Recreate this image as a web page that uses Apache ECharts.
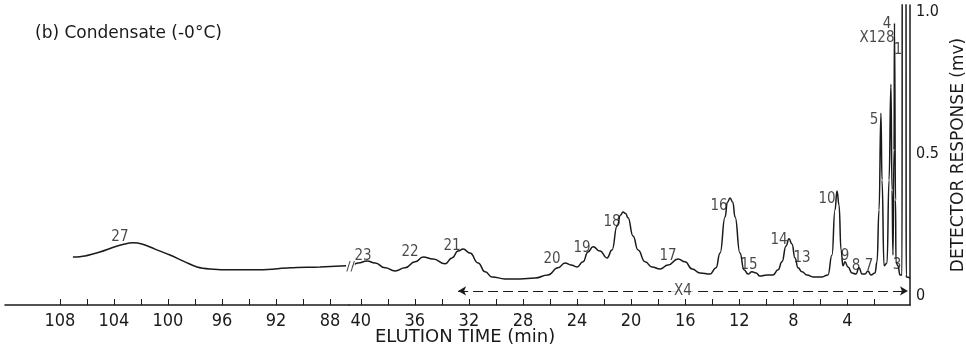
<!DOCTYPE html>
<html><head><meta charset="utf-8">
<script src="https://cdn.jsdelivr.net/npm/echarts@6/dist/echarts.min.js"></script>
<style>html,body{margin:0;padding:0;background:#fff}#c{width:966px;height:345px}</style>
</head><body><div id="c"></div>
<script>
// ---- data (elution time in min, detector response in mv) ----
// left section of the broken time axis (88-108 min)
const leftTime = [107.04,106.15,105.04,103.93,103.19,102.6,101.93,100.96,99.85,98.74,97.85,96.89,95.19,93.19,90.96,88.74,86.8];
const leftResp = [0.137,0.141,0.155,0.173,0.183,0.187,0.183,0.165,0.144,0.120,0.102,0.095,0.092,0.092,0.099,0.102,0.106];
// right section (0-40 min)
const rightTime = [40.65,40.2,39.53,38.94,38.2,37.46,36.72,35.98,35.39,34.65,33.76,33.25,32.8,32.43,31.92,31.32,30.8,30.29,29.33,28.22,27.11,26.15,25.41,24.89,24.45,24.0,23.56,23.19,22.82,22.3,21.78,21.41,21.04,20.78,20.6,20.4,20.23,19.86,19.49,18.97,18.45,17.86,17.27,16.53,16.01,15.49,14.9,14.16,13.72,13.42,13.05,12.88,12.68,12.48,12.31,11.95,11.65,11.35,11.06,10.76,10.47,9.95,9.5,9.13,8.84,8.54,8.32,8.1,7.88,7.65,7.36,6.99,6.54,5.88,5.44,5.14,4.92,4.77,4.62,4.47,4.33,4.18,3.96,3.66,3.37,3.14,2.92,2.7,2.48,2.26,1.96,1.81,1.66,1.52,1.44,1.29,1.07,0.92,0.78,0.70,0.63,0.55,0.52,0.44,0.41,0.26,0.11,-0.04,-0.06,-0.33,-0.35,-0.37,-0.63];
const rightResp = [0.102,0.116,0.123,0.116,0.099,0.088,0.099,0.120,0.137,0.130,0.113,0.134,0.158,0.165,0.151,0.116,0.085,0.067,0.060,0.060,0.063,0.074,0.099,0.116,0.109,0.102,0.120,0.155,0.173,0.158,0.134,0.162,0.246,0.285,0.296,0.290,0.275,0.211,0.162,0.120,0.102,0.095,0.109,0.130,0.120,0.095,0.081,0.077,0.099,0.151,0.278,0.330,0.345,0.330,0.278,0.151,0.092,0.077,0.085,0.081,0.070,0.074,0.074,0.092,0.120,0.176,0.201,0.183,0.134,0.099,0.085,0.074,0.067,0.067,0.074,0.144,0.303,0.370,0.320,0.162,0.106,0.120,0.102,0.081,0.077,0.099,0.077,0.077,0.088,0.074,0.081,0.120,0.303,0.644,0.408,0.106,0.116,0.408,0.746,0.373,0.144,0.514,0.961,0.338,0.120,0.106,0.074,0.074,1.5,1.5,0.074,0.067,0.063];
// peak labels: text, anchor time, anchor response, section (0 = left, 1 = right)
const peakText = ['27','23','22','21','20','19','18','17','16','15','14','13','10','9','8','7','5','4','X128','1','3'];
const peakTime = [103.56,39.83,36.35,33.25,25.85,23.63,21.41,17.27,13.5,11.28,9.06,7.36,5.51,4.18,3.37,2.4,2.03,1.07,1.81,0.26,0.33];
const peakResp = [0.208,0.141,0.155,0.176,0.130,0.169,0.261,0.141,0.317,0.109,0.197,0.134,0.342,0.141,0.106,0.106,0.620,0.958,0.908,0.866,0.109];
const peakSect = [0,1,1,1,1,1,1,1,1,1,1,1,1,1,1,1,1,1,1,1,1];
// tick values
const leftTickVals = [88,90,92,94,96,98,100,102,104,106,108];
const leftLabelVals = [88,92,96,100,104,108];
const rightTickVals = [2,4,6,8,10,12,14,16,18,20,22,24,26,28,30,32,34,36,38,40];
const rightLabelVals = [4,8,12,16,20,24,28,32,36,40];
const yLabelVals = [0,0.5,1.0];
// "X4" attenuation range (min) and its drawing level
const x4Range = [32.8,-0.48];
const x4Level = 0.0176;
const breakAt = [40.75, 0.104];

const ink = '#1a1a1a';
const numFont = "'Liberation Sans Narrow','DejaVu Sans Condensed','Liberation Sans',sans-serif";
const txtFont = "'DejaVu Sans',sans-serif";

const zip = (a,b)=>a.map((v,i)=>[v,b[i]]);
const labelData = s => peakText.map((t,i)=>({value:[peakTime[i],peakResp[i]],name:t,sect:peakSect[i]})).filter(d=>d.sect===s);

const chart = echarts.init(document.getElementById('c'), null, {renderer:'canvas'});
const axisLineStyle = {color:ink, width:1.5};
const yMin = -0.032, yMax = 1.025;
chart.setOption({
  backgroundColor:'#fff',
  animation:false,
  grid:[
    {left:5, right:617, top:5, bottom:40, outerBoundsMode:'none', containLabel:false},
    {left:349, right:56, top:5, bottom:40, outerBoundsMode:'none', containLabel:false}
  ],
  xAxis:[
    {gridIndex:0, type:'value', inverse:true, min:86.59, max:112.07,
     axisLine:{onZero:false, lineStyle:axisLineStyle},
     axisTick:{inside:true, length:6, customValues:leftTickVals, lineStyle:{color:ink,width:1}},
     axisLabel:{customValues:leftLabelVals, margin:7, color:ink, fontSize:18, fontFamily:numFont},
     splitLine:{show:false}},
    {gridIndex:1, type:'value', inverse:true, min:-0.63, max:40.87,
     axisLine:{onZero:false, lineStyle:axisLineStyle},
     axisTick:{inside:true, length:6, customValues:rightTickVals, lineStyle:{color:ink,width:1}},
     axisLabel:{customValues:rightLabelVals, margin:7, color:ink, fontSize:18, fontFamily:numFont},
     splitLine:{show:false}}
  ],
  yAxis:[
    {gridIndex:0, type:'value', min:yMin, max:yMax, show:false},
    {gridIndex:1, type:'value', min:yMin, max:yMax, position:'right',
     axisLine:{show:true, onZero:false, lineStyle:axisLineStyle},
     axisTick:{show:false}, splitLine:{show:false},
     axisLabel:{customValues:yLabelVals, formatter:v=>v===0?'0':v.toFixed(1), margin:6, color:ink, fontSize:16, fontFamily:numFont},
     name:'DETECTOR RESPONSE (mv)', nameLocation:'middle', nameRotate:90, nameGap:-4,
     nameTextStyle:{color:ink, fontSize:17, fontFamily:txtFont}}
  ],
  series:[
    {type:'line', xAxisIndex:0, yAxisIndex:0, data:zip(leftTime,leftResp), showSymbol:false,
     smooth:0.35, lineStyle:{color:ink, width:1.5}},
    {type:'line', xAxisIndex:1, yAxisIndex:1, data:zip(rightTime,rightResp), showSymbol:false,
     smooth:0.5, smoothMonotone:'x', lineStyle:{color:ink, width:1.5},
     markLine:{silent:true, symbol:['arrow','arrow'], symbolSize:[7,8],
       lineStyle:{type:[10,5], color:ink, width:1}, label:{show:false},
       data:[[{coord:[x4Range[0],x4Level]},{coord:[x4Range[1],x4Level]}]]}},
    {type:'scatter', xAxisIndex:0, yAxisIndex:0, data:labelData(0), symbolSize:1, itemStyle:{color:'rgba(0,0,0,0)'},
     label:{show:true, position:'inside', formatter:p=>p.name, color:ink, fontSize:15, fontFamily:numFont}},
    {type:'scatter', xAxisIndex:1, yAxisIndex:1, data:labelData(1), symbolSize:1, itemStyle:{color:'rgba(0,0,0,0)'},
     label:{show:true, position:'inside', formatter:p=>p.name, color:ink, fontSize:15, fontFamily:numFont}},
    {type:'scatter', xAxisIndex:1, yAxisIndex:1, data:[{value:[ (x4Range[0]+x4Range[1])/2, x4Level], name:'X4'}], symbolSize:1,
     itemStyle:{color:'rgba(0,0,0,0)'}, z:5,
     label:{show:true, position:'inside', formatter:'X4', color:ink, fontSize:15, fontFamily:numFont, backgroundColor:'#fff', padding:[0,3]}},
    {type:'scatter', xAxisIndex:1, yAxisIndex:1, data:[{value:breakAt, name:'break'}], symbolSize:1,
     itemStyle:{color:'rgba(0,0,0,0)'}, z:5,
     label:{show:true, position:'inside', formatter:'//', color:ink, fontSize:13, fontFamily:txtFont, backgroundColor:'#fff', padding:[0,0]}}
  ],
  graphic:[
    {type:'text', left:35, top:25, style:{text:'(b) Condensate (-0°C)', fill:ink, font:"17px 'DejaVu Sans',sans-serif"}},
    {type:'text', left:375, top:328, style:{text:'ELUTION TIME (min)', fill:ink, font:"18px 'DejaVu Sans',sans-serif"}}
  ]
});
</script></body></html>
